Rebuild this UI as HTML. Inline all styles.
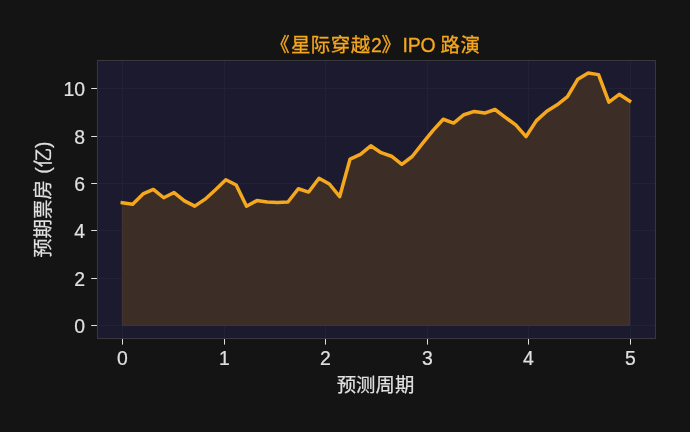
<!DOCTYPE html>
<html lang="zh"><head><meta charset="utf-8"><title>《星际穿越2》IPO 路演</title>
<style>
html,body{margin:0;padding:0;background:#141414;}
body{width:690px;height:432px;overflow:hidden;font-family:"Liberation Sans", "Noto Sans CJK SC", sans-serif;}
svg{display:block;}
svg text{font-family:"Liberation Sans", "Noto Sans CJK SC", sans-serif;}
</style></head><body>
<svg width="690" height="432" viewBox="0 0 690 432">
<rect x="0" y="0" width="690" height="432" fill="#141414"/>
<rect x="97" y="60" width="558" height="278" fill="#1b1a2e"/>

<g stroke="#222135" stroke-width="1" shape-rendering="crispEdges">
<line x1="122.5" y1="60.5" x2="122.5" y2="338.5"/>
<line x1="224.5" y1="60.5" x2="224.5" y2="338.5"/>
<line x1="325.5" y1="60.5" x2="325.5" y2="338.5"/>
<line x1="427.5" y1="60.5" x2="427.5" y2="338.5"/>
<line x1="528.5" y1="60.5" x2="528.5" y2="338.5"/>
<line x1="630.5" y1="60.5" x2="630.5" y2="338.5"/>
<line x1="97.5" y1="325.5" x2="655.5" y2="325.5"/>
<line x1="97.5" y1="278.5" x2="655.5" y2="278.5"/>
<line x1="97.5" y1="230.5" x2="655.5" y2="230.5"/>
<line x1="97.5" y1="183.5" x2="655.5" y2="183.5"/>
<line x1="97.5" y1="136.5" x2="655.5" y2="136.5"/>
<line x1="97.5" y1="88.5" x2="655.5" y2="88.5"/>
</g>
<path d="M122.30,202.73 L132.65,204.15 L143.01,193.95 L153.36,189.45 L163.71,197.75 L174.07,192.53 L184.42,200.83 L194.77,206.17 L205.12,199.17 L215.48,189.68 L225.83,179.72 L236.18,184.94 L246.54,206.29 L256.89,200.60 L267.24,202.02 L277.60,202.49 L287.95,202.02 L298.30,188.74 L308.66,192.06 L319.01,178.30 L329.36,183.99 L339.71,196.56 L350.07,159.09 L360.42,154.34 L370.77,145.80 L381.13,152.68 L391.48,156.24 L401.83,164.30 L412.19,156.48 L422.54,143.43 L432.89,130.62 L443.24,119.24 L453.60,123.03 L463.95,114.73 L474.30,111.41 L484.66,113.07 L495.01,109.51 L505.36,117.34 L515.72,124.93 L526.07,136.55 L536.42,120.66 L546.78,111.17 L557.13,104.77 L567.48,96.70 L577.83,79.15 L588.19,72.98 L598.54,74.64 L608.89,102.16 L619.25,94.33 L629.60,100.97 L629.60,325.3 L122.30,325.3 Z" fill="#3c2d27" stroke="#46372d" stroke-width="1"/>
<path d="M122.30,202.73 L132.65,204.15 L143.01,193.95 L153.36,189.45 L163.71,197.75 L174.07,192.53 L184.42,200.83 L194.77,206.17 L205.12,199.17 L215.48,189.68 L225.83,179.72 L236.18,184.94 L246.54,206.29 L256.89,200.60 L267.24,202.02 L277.60,202.49 L287.95,202.02 L298.30,188.74 L308.66,192.06 L319.01,178.30 L329.36,183.99 L339.71,196.56 L350.07,159.09 L360.42,154.34 L370.77,145.80 L381.13,152.68 L391.48,156.24 L401.83,164.30 L412.19,156.48 L422.54,143.43 L432.89,130.62 L443.24,119.24 L453.60,123.03 L463.95,114.73 L474.30,111.41 L484.66,113.07 L495.01,109.51 L505.36,117.34 L515.72,124.93 L526.07,136.55 L536.42,120.66 L546.78,111.17 L557.13,104.77 L567.48,96.70 L577.83,79.15 L588.19,72.98 L598.54,74.64 L608.89,102.16 L619.25,94.33 L629.60,100.97" fill="none" stroke="#f5a71e" stroke-width="3.5" stroke-linejoin="round" stroke-linecap="square"/>
<g stroke="#e0e0e0" stroke-width="1.05">
<line x1="122.5" y1="338.5" x2="122.5" y2="344.6"/>
<line x1="224.5" y1="338.5" x2="224.5" y2="344.6"/>
<line x1="325.5" y1="338.5" x2="325.5" y2="344.6"/>
<line x1="427.5" y1="338.5" x2="427.5" y2="344.6"/>
<line x1="528.5" y1="338.5" x2="528.5" y2="344.6"/>
<line x1="630.5" y1="338.5" x2="630.5" y2="344.6"/>
<line x1="97.5" y1="325.5" x2="91.2" y2="325.5"/>
<line x1="97.5" y1="278.5" x2="91.2" y2="278.5"/>
<line x1="97.5" y1="230.5" x2="91.2" y2="230.5"/>
<line x1="97.5" y1="183.5" x2="91.2" y2="183.5"/>
<line x1="97.5" y1="136.5" x2="91.2" y2="136.5"/>
<line x1="97.5" y1="88.5" x2="91.2" y2="88.5"/>
</g>
<rect x="97.5" y="60.5" width="558.0" height="278.0" fill="none" stroke="#38383c" stroke-width="1.1"/>
<g fill="#e0e0e0" stroke="#e0e0e0" stroke-width="0.2" font-size="19.4px">
<text x="122.5" y="365.3" text-anchor="middle">0</text>
<text x="224.5" y="365.3" text-anchor="middle">1</text>
<text x="325.5" y="365.3" text-anchor="middle">2</text>
<text x="427.5" y="365.3" text-anchor="middle">3</text>
<text x="528.5" y="365.3" text-anchor="middle">4</text>
<text x="630.5" y="365.3" text-anchor="middle">5</text>
<text x="85" y="332.6" text-anchor="end">0</text>
<text x="85" y="285.6" text-anchor="end">2</text>
<text x="85" y="237.6" text-anchor="end">4</text>
<text x="85" y="190.6" text-anchor="end">6</text>
<text x="85" y="143.6" text-anchor="end">8</text>
<text x="85" y="95.6" text-anchor="end">10</text>
</g>
<text x="375.5" y="392.1" text-anchor="middle" font-size="19.4px" fill="#e0e0e0" stroke="#e0e0e0" stroke-width="0.2">预测周期</text>
<text transform="translate(50.4,199.6) rotate(-90)" text-anchor="middle" font-size="19.4px" fill="#e0e0e0" stroke="#e0e0e0" stroke-width="0.2">预期票房 <tspan dx="1.1">(亿)</tspan></text>
<text y="52" font-size="19.44px" fill="#f5a71e" stroke="#f5a71e" stroke-width="0.3"><tspan x="270.2">《</tspan><tspan x="290.9" letter-spacing="0.5">星际穿越</tspan><tspan x="371">2</tspan><tspan x="381.6">》</tspan><tspan x="402.4" letter-spacing="-0.15">IPO </tspan><tspan x="440.6" letter-spacing="0.55">路演</tspan></text>
</svg></body></html>
